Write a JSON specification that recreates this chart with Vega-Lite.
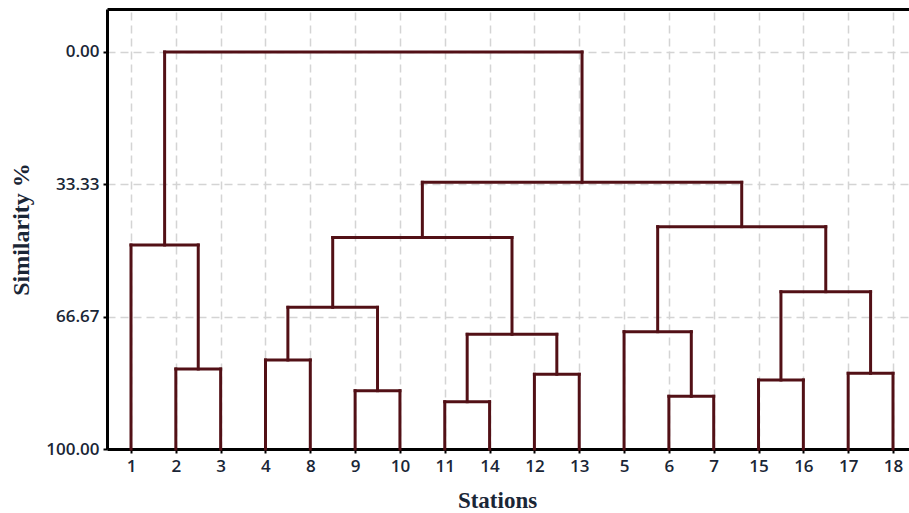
{
  "$schema": "https://vega.github.io/schema/vega-lite/v6.json",
  "width": 802,
  "height": 440,
  "autosize": {"type": "none"},
  "padding": {"left": 107, "top": 9, "right": 0, "bottom": 64},
  "background": "white",
  "config": {"view": {"stroke": null}},
  "data": {
    "values": [
      {"x": 1, "x2": 1, "y": 100, "y2": 48.61},
      {"x": 2, "x2": 2, "y": 100, "y2": 79.85},
      {"x": 3, "x2": 3, "y": 100, "y2": 79.85},
      {"x": 2.5, "x2": 2.5, "y": 79.85, "y2": 48.61},
      {"x": 4, "x2": 4, "y": 100, "y2": 77.58},
      {"x": 5, "x2": 5, "y": 100, "y2": 77.58},
      {"x": 6, "x2": 6, "y": 100, "y2": 85.31},
      {"x": 7, "x2": 7, "y": 100, "y2": 85.31},
      {"x": 4.5, "x2": 4.5, "y": 77.58, "y2": 64.31},
      {"x": 6.5, "x2": 6.5, "y": 85.31, "y2": 64.31},
      {"x": 8, "x2": 8, "y": 100, "y2": 88.09},
      {"x": 9, "x2": 9, "y": 100, "y2": 88.09},
      {"x": 10, "x2": 10, "y": 100, "y2": 81.18},
      {"x": 11, "x2": 11, "y": 100, "y2": 81.18},
      {"x": 8.5, "x2": 8.5, "y": 88.09, "y2": 71.11},
      {"x": 10.5, "x2": 10.5, "y": 81.18, "y2": 71.11},
      {"x": 5.5, "x2": 5.5, "y": 64.31, "y2": 46.73},
      {"x": 9.5, "x2": 9.5, "y": 71.11, "y2": 46.73},
      {"x": 12, "x2": 12, "y": 100, "y2": 70.45},
      {"x": 13, "x2": 13, "y": 100, "y2": 86.73},
      {"x": 14, "x2": 14, "y": 100, "y2": 86.73},
      {"x": 13.5, "x2": 13.5, "y": 86.73, "y2": 70.45},
      {"x": 15, "x2": 15, "y": 100, "y2": 82.62},
      {"x": 16, "x2": 16, "y": 100, "y2": 82.62},
      {"x": 17, "x2": 17, "y": 100, "y2": 80.93},
      {"x": 18, "x2": 18, "y": 100, "y2": 80.93},
      {"x": 15.5, "x2": 15.5, "y": 82.62, "y2": 60.38},
      {"x": 17.5, "x2": 17.5, "y": 80.93, "y2": 60.38},
      {"x": 12.75, "x2": 12.75, "y": 70.45, "y2": 44.0},
      {"x": 16.5, "x2": 16.5, "y": 60.38, "y2": 44.0},
      {"x": 7.5, "x2": 7.5, "y": 46.73, "y2": 32.82},
      {"x": 14.625, "x2": 14.625, "y": 44.0, "y2": 32.82},
      {"x": 1.75, "x2": 1.75, "y": 48.61, "y2": 0},
      {"x": 11.0625, "x2": 11.0625, "y": 32.82, "y2": 0},
      {"x": 2, "x2": 3, "y": 79.85, "y2": 79.85},
      {"x": 1, "x2": 2.5, "y": 48.61, "y2": 48.61},
      {"x": 4, "x2": 5, "y": 77.58, "y2": 77.58},
      {"x": 6, "x2": 7, "y": 85.31, "y2": 85.31},
      {"x": 4.5, "x2": 6.5, "y": 64.31, "y2": 64.31},
      {"x": 8, "x2": 9, "y": 88.09, "y2": 88.09},
      {"x": 10, "x2": 11, "y": 81.18, "y2": 81.18},
      {"x": 8.5, "x2": 10.5, "y": 71.11, "y2": 71.11},
      {"x": 5.5, "x2": 9.5, "y": 46.73, "y2": 46.73},
      {"x": 13, "x2": 14, "y": 86.73, "y2": 86.73},
      {"x": 12, "x2": 13.5, "y": 70.45, "y2": 70.45},
      {"x": 15, "x2": 16, "y": 82.62, "y2": 82.62},
      {"x": 17, "x2": 18, "y": 80.93, "y2": 80.93},
      {"x": 15.5, "x2": 17.5, "y": 60.38, "y2": 60.38},
      {"x": 12.75, "x2": 16.5, "y": 44.0, "y2": 44.0},
      {"x": 7.5, "x2": 14.625, "y": 32.82, "y2": 32.82},
      {"x": 1.75, "x2": 11.0625, "y": 0, "y2": 0}
    ]
  },
  "layer": [
    {
      "mark": {"type": "rule", "color": "#521016", "strokeWidth": 3, "strokeCap": "square"},
      "encoding": {
        "x": {
          "field": "x",
          "type": "quantitative",
          "scale": {"domain": [0.4645, 18.357], "nice": false, "zero": false},
          "axis": {
            "orient": "bottom",
            "values": [1, 2, 3, 4, 5, 6, 7, 8, 9, 10, 11, 12, 13, 14, 15, 16, 17, 18],
            "labelExpr": "['1','2','3','4','8','9','10','11','14','12','13','5','6','7','15','16','17','18'][datum.value-1]",
            "labelFont": "Open Sans",
            "labelFontSize": 17,
            "labelFontWeight": 600,
            "labelColor": "#1a2636",
            "labelPadding": 5,
            "labelFlush": false,
            "labelOverlap": false,
            "tickColor": "black",
            "tickSize": 4,
            "tickWidth": 2,
            "domainColor": "black",
            "domainWidth": 3,
            "grid": true,
            "gridColor": "#d4d4d4",
            "gridDash": [8, 5],
            "gridWidth": 1.5,
            "title": "Stations",
            "titleFont": "Liberation Serif",
            "titleFontSize": 23,
            "titleFontWeight": "bold",
            "titleColor": "#1a2636",
            "titleX": 390,
            "titleY": 58,
            "titleAlign": "center",
            "titleBaseline": "alphabetic"
          }
        },
        "x2": {"field": "x2"},
        "y": {
          "field": "y",
          "type": "quantitative",
          "scale": {"domain": [-10.83, 100], "reverse": true, "nice": false, "zero": false},
          "axis": {
            "values": [0, 33.33, 66.67, 100],
            "format": ".2f",
            "labelFont": "Open Sans",
            "labelFontSize": 17,
            "labelFontWeight": 600,
            "labelColor": "#1a2636",
            "labelPadding": 4,
            "tickColor": "black",
            "tickSize": 4,
            "tickWidth": 2,
            "domainColor": "black",
            "domainWidth": 3,
            "grid": true,
            "gridColor": "#d4d4d4",
            "gridDash": [8, 5],
            "gridWidth": 1.5,
            "title": "Similarity %",
            "titleFont": "Liberation Serif",
            "titleFontSize": 24,
            "titleFontWeight": "bold",
            "titleColor": "#1a2636",
            "titleAngle": 270,
            "titleX": -86,
            "titleY": 220,
            "titleAlign": "center",
            "titleBaseline": "middle"
          }
        },
        "y2": {"field": "y2"}
      }
    },
    {
      "mark": {"type": "rule", "opacity": 0},
      "encoding": {
        "x": {
          "field": "x",
          "type": "quantitative",
          "axis": {
            "orient": "top",
            "labels": false,
            "ticks": false,
            "grid": false,
            "title": null,
            "domainColor": "black",
            "domainWidth": 3
          }
        }
      }
    }
  ],
  "resolve": {"axis": {"x": "independent"}}
}
